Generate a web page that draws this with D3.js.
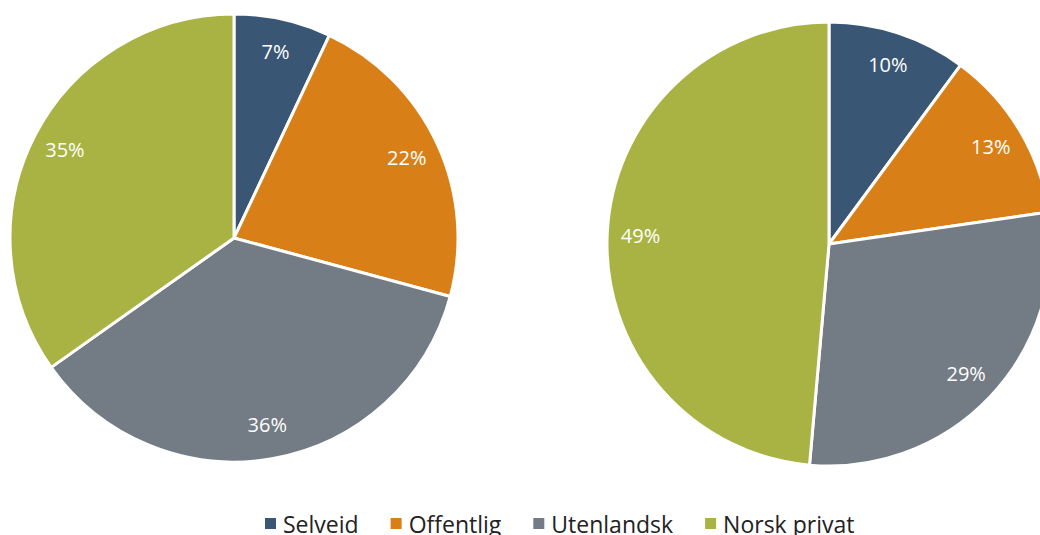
<!DOCTYPE html>
<html>
<head>
<meta charset="utf-8">
<script src="https://cdn.jsdelivr.net/npm/d3@7"></script>
<style>
  body { margin: 0; background: #fff; }
  svg { display: block; font-family: "Open Sans", sans-serif; }
</style>
</head>
<body>
<div id="vis"></div>
<script>
// declare constant
const FRAME_WIDTH = 1040
const FRAME_HEIGHT = 535

// data
const categories = ["Selveid", "Offentlig", "Utenlandsk", "Norsk privat"]
const leftValues = [7.0, 22.2, 36.0, 34.8]
const rightValues = [10.1, 12.6, 28.7, 48.6]
const leftLabels = ["7%", "22%", "36%", "35%"]
const rightLabels = ["10%", "13%", "29%", "49%"]
const colors = ["#3a5675", "#d97f17", "#737b84", "#a8b343"]

const color = d3.scaleOrdinal()
                .domain(categories)
                .range(colors)

const FRAME = d3.select('#vis')
                .append('svg')
                .attr('width', FRAME_WIDTH)
                .attr('height', FRAME_HEIGHT)

const pie = d3.pie().sort(null).value(d => d.value)

function drawPie(values, labels, cx, cy, r) {
  const data = categories.map((c, i) => ({cat: c, value: values[i], label: labels[i]}))
  const arc = d3.arc().innerRadius(0).outerRadius(r)
  const labelArc = d3.arc().innerRadius(r * 0.85).outerRadius(r * 0.85)

  const g = FRAME.append('g')
                 .attr('transform', 'translate(' + cx + ',' + cy + ')')

  g.selectAll('path')
   .data(pie(data))
   .enter()
   .append('path')
     .attr('d', arc)
     .attr('fill', d => color(d.data.cat))
     .attr('stroke', '#fff')
     .attr('stroke-width', 3)
     .attr('stroke-linejoin', 'round')

  // percent labels
  g.selectAll('text')
   .data(pie(data))
   .enter()
   .append('text')
     .attr('transform', d => 'translate(' + labelArc.centroid(d) + ')')
     .attr('text-anchor', 'middle')
     .attr('dy', '0.35em')
     .attr('fill', '#fff')
     .attr('font-size', '20px')
     .text(d => d.data.label)
}

drawPie(leftValues, leftLabels, 234, 238, 224)
drawPie(rightValues, rightLabels, 829, 244, 222)

// legend
const legend = FRAME.append('g')
let lx = 265
categories.forEach((c, i) => {
  legend.append('rect')
        .attr('x', lx)
        .attr('y', 518)
        .attr('width', 11)
        .attr('height', 11)
        .attr('fill', color(c))
  const t = legend.append('text')
        .attr('x', lx + 18)
        .attr('y', 533)
        .attr('font-size', '23px')
        .attr('fill', '#222')
        .text(c)
  lx += 18 + t.node().getComputedTextLength() + 32
})
</script>
</body>
</html>
